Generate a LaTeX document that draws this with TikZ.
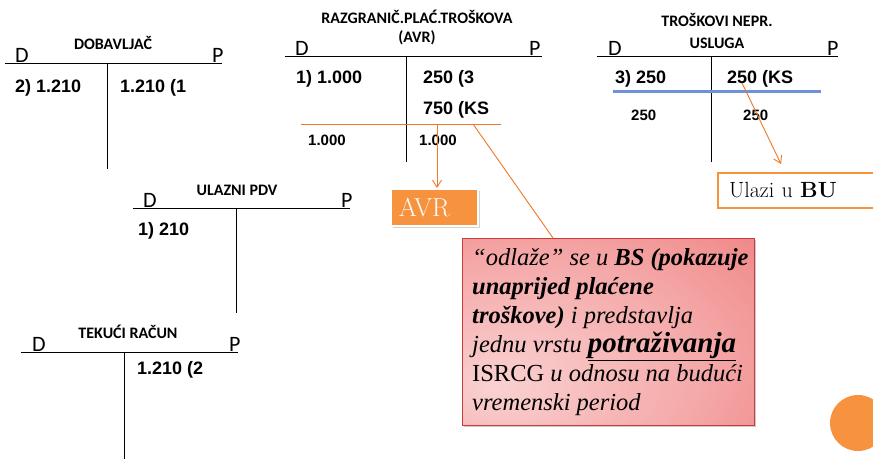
\documentclass[tikz,border=0pt]{standalone}
\usepackage{fontspec}
\usepackage{xcolor}
\usepackage{tikz}
\usetikzlibrary{calc}
\usetikzlibrary{arrows.meta,positioning,shadows}
\newfontfamily\kalibri{Carlito}
\newfontfamily\arialfont{Liberation Sans}
\newfontfamily\serifit{Liberation Serif}

\definecolor{narandz}{RGB}{247,146,62}
\definecolor{narlinija}{RGB}{240,118,40}
\definecolor{plavalin}{RGB}{110,145,215}
\definecolor{crvenrub}{RGB}{200,60,60}
\pgfdeclareradialshading{crvenasjena}{\pgfpoint{-20bp}{-15bp}}{rgb(0bp)=(0.98,0.82,0.82); rgb(30bp)=(0.96,0.66,0.66); rgb(60bp)=(0.93,0.45,0.45); rgb(95bp)=(0.91,0.36,0.36)}

\tikzset{
	naslov/.style={font=\kalibri\bfseries\fontsize{16}{18}\selectfont, anchor=base, inner sep=0pt},
	strana/.style={font=\kalibri\fontsize{22}{24}\selectfont, anchor=base west, inner sep=0pt},
	iznos/.style={font=\arialfont\bfseries\fontsize{18}{20}\selectfont, anchor=base west, inner sep=0pt},
	iznosmali/.style={font=\arialfont\bfseries\fontsize{15}{17}\selectfont, anchor=base west, inner sep=0pt},
	konto/.style={line width=1pt},
	strelica/.style={narlinija, line width=0.9pt, -{Straight Barb[length=7pt,width=9pt]}}
}

\begin{document}
\begin{tikzpicture}[x=1pt,y=-1pt]
	\useasboundingbox (0,0) rectangle (873,458);
	% DOBAVLJAC
	\node[naslov] (dobnaslov) at (113,49) {DOBAVLJAČ};
	\node[strana] (dobD) at (15,62) {D};
	\node[strana] (dobP) at (212,62) {P};
	\draw[konto] (5,63) -- (222,63);
	\draw[konto] (107,63) -- (107,169);
	\node[iznos] (dob1) at (15,92) {2) 1.210};
	\node[iznos] (dob2) at (120,92) {1.210 (1};
	% RAZGRANIC. PLAC. TROSKOVA
	\node[naslov] (avrnaslov) at (417,23) {RAZGRANIČ.PLAĆ.TROŠKOVA};
	\node[naslov] (avrnaslovb) at (417,42) {(AVR)};
	\node[strana] (avrD) at (295,55) {D};
	\node[strana] (avrP) at (529,55) {P};
	\draw[konto] (285,56) -- (542,56);
	\draw[konto] (406,56) -- (406,162);
	\node[iznos] (avr1) at (296,83) {1) 1.000};
	\node[iznos] (avr2) at (423,83) {250 (3};
	\node[iznos] (avr3) at (423,114) {750 (KS};
	\draw[narlinija, line width=0.9pt] (301,124) -- (501,124);
	\node[iznosmali] (avrsum1) at (308,145) {1.000};
	\node[iznosmali] (avrsum2) at (419,145) {1.000};
	\coordinate (avrtack) at (437,124);
	\coordinate (odltack) at (473,124);
	% TROSKOVI NEPR. USLUGA
	\node[naslov] (tnunaslov) at (717,26) {TROŠKOVI NEPR.};
	\node[naslov] (tnunaslovb) at (717,48) {USLUGA};
	\node[strana] (tnuD) at (608,55) {D};
	\node[strana] (tnuP) at (827,55) {P};
	\draw[konto] (597,56) -- (838,56);
	\draw[konto] (711,56) -- (711,162);
	\node[iznos] (tnu1) at (615,83) {3) 250};
	\node[iznos] (tnu2) at (727,83) {250 (KS};
	\draw[plavalin, line width=3pt] (613,91) -- (821,91);
	\node[iznosmali] (tnusum1) at (631,120) {250};
	\node[iznosmali] (tnusum2) at (743,120) {250};
	\coordinate (kstack) at (742,83);
	\coordinate (bukraj) at (781,164);
	% ULAZNI PDV
	\node[naslov] (pdvnaslov) at (237,195) {ULAZNI PDV};
	\node[strana] (pdvD) at (143,207) {D};
	\node[strana] (pdvP) at (341,207) {P};
	\draw[konto] (133,208) -- (350,208);
	\draw[konto] (236,208) -- (236,313);
	\node[iznos] (pdv1) at (138,235) {1) 210};
	% TEKUCI RACUN
	\node[naslov] (trnaslov) at (128,338) {TEKUĆI RAČUN};
	\node[strana] (trD) at (32,351) {D};
	\node[strana] (trP) at (229,351) {P};
	\draw[konto] (21,352) -- (238,352);
	\draw[konto] (124,352) -- (124,460);
	\node[iznos] (tr1) at (137,374) {1.210 (2};
	% okviri
	\node[fill=narandz, draw=white, line width=1.5pt, drop shadow={opacity=0.35}, text=white,
		minimum width=87pt, minimum height=37pt, text width=71pt, inner xsep=8pt, align=left,
		font=\fontsize{26}{28}\selectfont, anchor=north west] (avr) at (390,188) {AVR};
	\node[draw=narandz, line width=2pt, fill=white, anchor=north west, minimum width=170pt,
		minimum height=35pt, text width=148pt, inner xsep=11pt, align=left,
		font=\fontsize{22}{24}\selectfont] (ulazi) at (717,172) {Ulazi u \textbf{BU}};
	\node[draw=crvenrub, shading=crvenasjena, drop shadow={opacity=0.4}, anchor=north west,
		minimum width=292pt, minimum height=187pt] (odlaganje) at (462,238) {};
	\node[anchor=north west, inner sep=0pt, align=left,
		font=\serifit\itshape\fontsize{24.5}{29}\selectfont] (odltekst)
		at ([shift={(10,10)}]odlaganje.north west)
		{“odlaže” se u \textbf{BS (pokazuje}\\
		\textbf{unaprijed plaćene}\\
		\textbf{troškove)} i predstavlja\\
		jednu vrstu {\fontsize{29}{29}\selectfont\underline{\textbf{potraživanja}}}\\
		\textup{ISRCG} u odnosu na budući\\
		vremenski period};
	\coordinate (odlkraj) at ([xshift=91pt]odlaganje.north west);
	% strelice
	\draw[strelica] (avrtack) -- (avrtack |- avr.north);
	\draw[strelica] (kstack) -- (bukraj);
	\draw[narlinija, line width=0.9pt] (odltack) -- (odlkraj);
	\fill[narandz] (858,423) circle (28pt);
\end{tikzpicture}
\end{document}
